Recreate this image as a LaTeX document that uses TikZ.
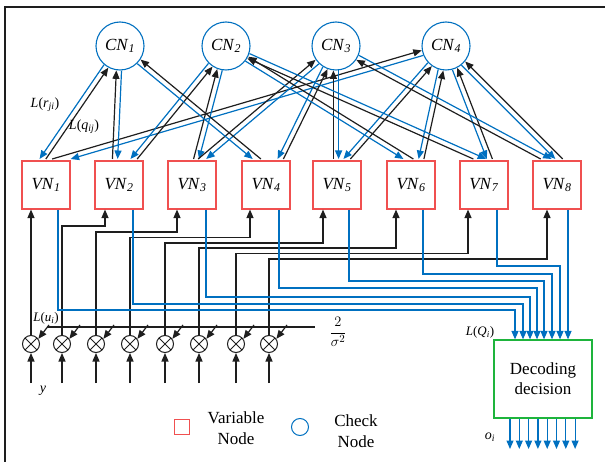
\documentclass[tikz,border=0pt]{standalone}
\usepackage{fontspec}
\setmainfont{Liberation Serif}
\usetikzlibrary{arrows.meta,calc}
\definecolor{lblue}{RGB}{0,112,192}
\definecolor{lred}{RGB}{240,80,80}
\definecolor{lgreen}{RGB}{30,180,60}
\definecolor{dgray}{RGB}{30,30,30}
\newcommand\tsub[1]{\textsubscript{\textit{#1}}}
\newcommand\tgedge[4]{%
 \coordinate (eP) at (#2,160);
 \coordinate (eB1) at ($(#1)!2.6pt!#3:(eP)$);
 \coordinate (eB2) at ($(eB1)+(eP)-(#1)$);
 \coordinate (eK1) at ($(#1)!2.6pt!#4:(eP)$);
 \coordinate (eK2) at ($(eK1)+(eP)-(#1)$);
 \draw[barr] ($(eB1)!24.5pt!(eB2)$) -- (intersection of eB1--eB2 and vtl--vtr);
 \draw[karr] (intersection of eK1--eK2 and vtl--vtr) -- ($(eK1)!24.5pt!(eK2)$);
}
\begin{document}
\begin{tikzpicture}[x=1pt,y=-1pt,
  cn/.style={circle,draw=lblue,line width=1.1pt,fill=white,minimum size=48pt,inner sep=0pt,font=\fontsize{17}{20}\selectfont},
  vn/.style={rectangle,draw=lred,line width=1.1pt,fill=white,minimum width=48pt,minimum height=48pt,inner sep=0pt,font=\fontsize{17}{20}\selectfont},
  mult/.style={circle,draw=dgray,line width=1pt,minimum size=17pt,inner sep=0pt,
    path picture={\draw[dgray,line width=0.9pt] (path picture bounding box.north west) -- (path picture bounding box.south east) (path picture bounding box.north east) -- (path picture bounding box.south west);}},
  dec/.style={rectangle,draw=lgreen,line width=1.2pt,fill=white,minimum width=98pt,minimum height=78pt,align=center,font=\fontsize{17}{20}\selectfont},
  karr/.style={draw=dgray,line width=1.2pt,-{Triangle[length=8.5pt,width=7pt]}},
  kline/.style={draw=dgray,line width=1.2pt},
  barr/.style={draw=lblue,line width=1.2pt,-{Triangle[length=8.5pt,width=7pt]}},
  lab/.style={font=\fontsize{14}{16}\selectfont,inner sep=0pt},
  legtext/.style={align=center,font=\fontsize{17}{21}\selectfont,inner sep=0pt}
]
\useasboundingbox (0,0) rectangle (605,462);
\draw[draw=dgray,line width=1.3pt] (605,7) -- (5,7) -- (5,462);

\coordinate (vtl) at (0,159);
\coordinate (vtr) at (605,159);

% check nodes
\node[cn] (C1) at (120,46) {\textit{CN}\tsub{1}};
\node[cn] (C2) at (226,46) {\textit{CN}\tsub{2}};
\node[cn] (C3) at (336,46) {\textit{CN}\tsub{3}};
\node[cn] (C4) at (446,46) {\textit{CN}\tsub{4}};

% variable nodes
\foreach \i/\x in {1/46,2/119,3/192,4/266,5/337,6/411,7/484,8/557}
  \node[vn] (V\i) at (\x,185) {\textit{VN}\tsub{\i}};

% Tanner graph edges (blue: CN->VN, black: VN->CN)
\tgedge{C1}{42}{-90}{90}
\tgedge{C4}{58}{90}{-90}
\tgedge{C1}{115}{90}{-90}
\tgedge{C2}{133}{-90}{90}
\tgedge{C2}{196}{90}{-90}
\tgedge{C3}{201}{90}{-90}
\tgedge{C1}{258}{-90}{90}
\tgedge{C3}{280}{-90}{90}
\tgedge{C3}{336}{90}{-90}
\tgedge{C4}{346}{-90}{90}
\tgedge{C2}{410}{-90}{90}
\tgedge{C4}{421}{-90}{90}
\tgedge{C2}{482}{90}{-90}
\tgedge{C4}{490}{-90}{90}
\tgedge{C3}{548}{90}{-90}
\tgedge{C4}{560}{-90}{90}

\node[lab] (lr) at (45,105) {\textit{L}(\textit{r}\tsub{ji})};
\node[lab] (lq) at (84,127) {\textit{L}(\textit{q}\tsub{ij})};

% decision box
\node[dec] (D) at (543,379) {Decoding\\decision};

% multipliers
\foreach \i/\x in {1/31,2/62,3/96,4/130,5/165,6/199,7/236,8/269}{
  \node[mult] (M\i) at (\x,344) {};
  \coordinate (yin\i) at (\x,383);
  \draw[karr] (yin\i) -- (M\i.south);
  \coordinate (g\i) at (\x+18,325);
  \draw[karr] (g\i) -- (M\i.35);
}
\coordinate (gs) at (47,327);
\coordinate (gend) at (315,327);
\draw[kline] (gs) -- (gend);
\node[inner sep=0pt,font=\fontsize{15}{17}\selectfont] (sig) at (338,332) {$\displaystyle\frac{2}{\sigma^{2}}$};
\node[lab,font=\fontsize{13}{15}\selectfont] (lu) at (46,318) {\textit{L}(\textit{u}\tsub{i})};
\node[lab] (ylab) at (43,391) {\textit{y}};

% channel values to variable nodes
\draw[karr] (M1.north) -- (M1.north |- V1.south);
\foreach \i/\yh/\xa in {2/226/105,3/232/177,4/237.5/250,5/243/323,6/248/396,7/253.5/468,8/259/547}{
  \coordinate (ri\i) at (\xa,\yh);
  \draw[karr] (M\i.north) |- (ri\i) -- (ri\i |- V\i.south);
}

% outputs of variable nodes to decision
\foreach \i/\xb/\yh/\xd in {1/58/310/515,2/133/304/523,3/206/297/530,4/279/288/537,5/349/281/544,6/423/274/552,7/497/266/560}{
  \coordinate (ob\i) at (\xb,\yh);
  \coordinate (oe\i) at (\xd,\yh);
  \draw[barr] (V\i.south -| ob\i) -- (ob\i) -- (oe\i) -- (oe\i |- D.north);
}
\coordinate (ob8) at (568,300);
\draw[barr] (V8.south -| ob8) -- (ob8 |- D.north);
\node[lab,font=\fontsize{13}{15}\selectfont] (lQ) at (480,332) {\textit{L}(\textit{Q}\tsub{i})};

% decision outputs
\foreach \k in {0,...,7}{
  \coordinate (out\k) at ({510+9.3*\k},449);
  \draw[barr] (out\k |- D.south) -- (out\k);
}
\node[lab] (lo) at (490,437) {\textit{o}\tsub{i}};

% legend
\node[draw=lred,line width=1pt,minimum size=15pt,inner sep=0pt] (legv) at (182,427) {};
\node[legtext] (legvt) at (236,428) {Variable\\Node};
\node[circle,draw=lblue,line width=1pt,minimum size=17pt,inner sep=0pt] (legc) at (300,427) {};
\node[legtext] (legct) at (356,431) {Check\\Node};
\end{tikzpicture}
\end{document}
